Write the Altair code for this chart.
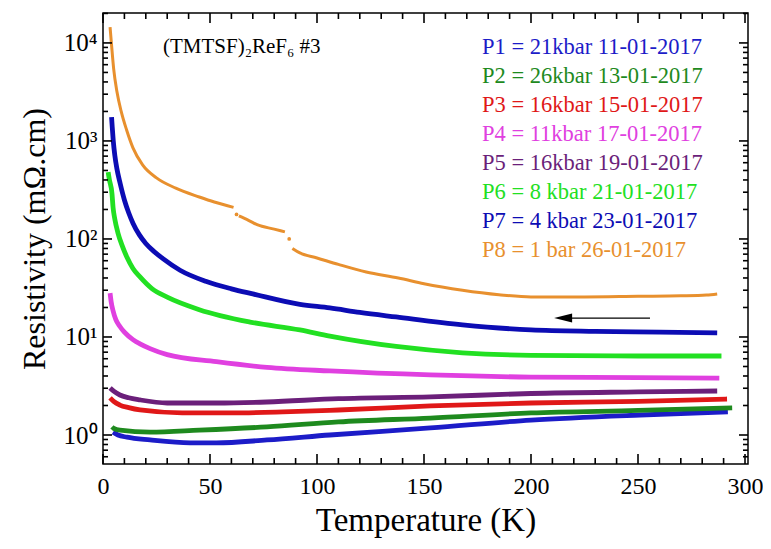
import altair as alt
import pandas as pd

FONT = "Liberation Serif"
W, H = 645, 451

# ---- series (Temperature K, resistivity mOhm.cm) ----
series_names = ["P1", "P2", "P3", "P4", "P5", "P6", "P7", "P8"]
legend_labels = [
    "P1 = 21kbar 11-01-2017",
    "P2 = 26kbar 13-01-2017",
    "P3 = 16kbar 15-01-2017",
    "P4 = 11kbar 17-01-2017",
    "P5 = 16kbar 19-01-2017",
    "P6 = 8 kbar 21-01-2017",
    "P7 = 4 kbar 23-01-2017",
    "P8 = 1 bar 26-01-2017",
]
series_colors = ["#1c1cc8", "#1e8a1e", "#e01818", "#e040e0",
                 "#6b1f7a", "#22e022", "#0c0cb4", "#e8902e"]

p1_T = [4.7, 7, 11.2, 22, 40.7, 53, 76.6, 106, 153, 200, 251, 292]
p1_R = [1.07, 1.0, 0.95, 0.89, 0.83, 0.83, 0.89, 1.0, 1.18, 1.42, 1.6, 1.72]

p2_T = [4.2, 5, 7.9, 22, 45, 76.6, 110, 153, 200, 250, 294]
p2_R = [1.21, 1.17, 1.12, 1.07, 1.12, 1.21, 1.36, 1.49, 1.68, 1.78, 1.89]

p3_T = [3.3, 5, 7.9, 12, 17.3, 37, 60, 84, 110, 153, 200, 250, 291.6]
p3_R = [2.39, 2.2, 2.02, 1.9, 1.8, 1.68, 1.68, 1.72, 1.8, 1.98, 2.12, 2.2, 2.33]

p4_T = [3.3, 3.8, 4.7, 6, 7.9, 10, 14, 17.3, 22, 30, 53, 76.6, 106, 153, 200, 250, 288]
p4_R = [28, 23, 18.5, 15, 12.8, 11.2, 9.4, 8.5, 7.6, 6.6, 5.6, 4.9, 4.5, 4.1, 3.9, 3.85, 3.8]

p5_T = [3.3, 5, 7.9, 12, 17.3, 30, 53, 76.6, 110, 153, 200, 250, 287]
p5_R = [3.02, 2.8, 2.56, 2.4, 2.28, 2.12, 2.12, 2.17, 2.35, 2.45, 2.65, 2.75, 2.81]

p6_T = [2.4, 3.0, 4.2, 4.7, 5.5, 7, 9, 11.2, 14, 17.3, 23, 30, 45, 68.7, 92, 106, 137, 168, 200, 250, 289]
p6_R = [480, 400, 290, 210, 160, 115, 85, 65, 50, 41, 31, 25.5, 19, 14.2, 11.8, 10.2, 8.0, 6.9, 6.5, 6.4, 6.4]

p7_T = [4.0, 4.3, 4.8, 5.5, 6.5, 8, 10, 12, 14, 17, 20, 24, 28, 36, 48, 60, 70, 92, 106, 120, 137, 168, 200, 230, 260, 287]
p7_R = [1750, 1400, 1000, 720, 520, 370, 250, 185, 145, 110, 90, 74, 63, 48, 37, 31, 27.5, 21.5, 19.8, 17.8, 16, 13.3, 11.8, 11.4, 11.2, 11.0]

# P8 is broken in three pieces (two jumps)
p8a_T = [3.3, 4.0, 5.0, 6.5, 8.5, 11, 14, 18.5, 25, 34, 45, 52, 61]
p8a_R = [14500, 9500, 5400, 3200, 2000, 1300, 850, 570, 420, 330, 268, 238, 210]
p8b_T = [63.5, 68, 72, 80, 85]
p8b_R = [172, 155, 140, 126, 118]
p8c_T = [88.5, 92, 100, 110, 123, 138, 150, 168, 185, 200, 225, 250, 270, 282, 287]
p8c_R = [80, 72, 64, 55, 46, 40, 35, 30, 27, 25.6, 25.6, 26, 26.3, 26.8, 27.5]
p8_dots_T = [62.4, 87]
p8_dots_R = [178, 100]

# ---- axis ticks ----
x_major = [0, 50, 100, 150, 200, 250, 300]
x_minor = [t for t in range(10, 300, 10) if t % 50 != 0]
y_major = [1, 10, 100, 1000, 10000]
y_minor = [round(m * d, 3) for d in [0.1, 1, 10, 100, 1000] for m in range(2, 10)
           if 0.506 < m * d < 20200] + [20000]
y_label_expr = ("datum.value == 1 ? '10\u2070' : datum.value == 10 ? '10\u00b9' : "
                "datum.value == 100 ? '10\u00b2' : datum.value == 1000 ? '10\u00b3' : '10\u2074'")

# ---- arrow annotation ----
arrow_T = [255.6, 216]
arrow_R = 15.6
arrow_head_T = 215

# ---- build tables ----
rows = []
for name, T, R in [("P1", p1_T, p1_R), ("P2", p2_T, p2_R), ("P3", p3_T, p3_R),
                   ("P4", p4_T, p4_R), ("P5", p5_T, p5_R), ("P6", p6_T, p6_R),
                   ("P7", p7_T, p7_R)]:
    for t, r in zip(T, R):
        rows.append({"series": name, "seg": name, "T": t, "rho": r})
for seg, T, R in [("P8a", p8a_T, p8a_R), ("P8b", p8b_T, p8b_R), ("P8c", p8c_T, p8c_R)]:
    for t, r in zip(T, R):
        rows.append({"series": "P8", "seg": seg, "T": t, "rho": r})
df = pd.DataFrame(rows)
dots = pd.DataFrame({"series": "P8", "T": p8_dots_T, "rho": p8_dots_R})
arrow_df = pd.DataFrame({"T": [arrow_T[0]], "T2": [arrow_T[1]], "rho": [arrow_R]})
head_df = pd.DataFrame({"T": [arrow_head_T], "rho": [arrow_R]})
leg_df = pd.DataFrame({"series": series_names, "label": legend_labels,
                       "idx": list(range(len(series_names)))})
title_df = pd.DataFrame({"t": ["(TMTSF)\u2082ReF\u2086 #3"]})

xscale = alt.Scale(domain=[0, 301.4], nice=False, zero=False)
yscale = alt.Scale(type="log", domain=[0.506, 20200], nice=False)
cscale = alt.Scale(domain=series_names, range=series_colors)

x_axis = alt.Axis(values=x_major, ticks=False, tickSize=0, domain=False, grid=False,
                  labelFont=FONT, labelFontSize=24, labelColor="black",
                  labelPadding=10, labelFlush=False,
                  title="Temperature (K)", titleFont=FONT, titleFontSize=33,
                  titleFontWeight="normal", titleColor="black", titlePadding=6)
y_axis = alt.Axis(values=y_major, ticks=False, tickSize=0, domain=False, grid=False,
                  labelExpr=y_label_expr,
                  labelFont=FONT, labelFontSize=25, labelColor="black",
                  labelPadding=6, labelFlush=False,
                  title="Resistivity (m\u03a9.cm)", titleFont=FONT, titleFontSize=32,
                  titleFontWeight="normal", titleColor="black", titlePadding=12)

lines = alt.Chart(df).mark_line(interpolate="monotone").encode(
    x=alt.X("T:Q", scale=xscale, axis=x_axis),
    y=alt.Y("rho:Q", scale=yscale, axis=y_axis),
    color=alt.Color("series:N", scale=cscale, legend=None),
    detail="seg:N",
    strokeWidth=alt.condition("datum.series == 'P8'", alt.value(3), alt.value(4.8)),
)

dot_layer = alt.Chart(dots).mark_circle(size=14, opacity=1).encode(
    x=alt.X("T:Q", scale=xscale),
    y=alt.Y("rho:Q", scale=yscale),
    color=alt.Color("series:N", scale=cscale, legend=None),
)

arrow_rule = alt.Chart(arrow_df).mark_rule(color="black", strokeWidth=1.3).encode(
    x=alt.X("T:Q", scale=xscale), x2="T2:Q", y=alt.Y("rho:Q", scale=yscale),
)

arrow_head = alt.Chart(head_df).mark_point(
    shape="M-1,0L1,-0.5L1,0.5Z", size=324, filled=True, color="black", opacity=1
).encode(x=alt.X("T:Q", scale=xscale), y=alt.Y("rho:Q", scale=yscale))


# ---- inward tick marks on all four sides ----
def xticks(values, length, side):
    d = pd.DataFrame({"T": values})
    if side == "bottom":
        ya, yb = H, H - length
    else:
        ya, yb = 0, length
    return alt.Chart(d).mark_rule(color="black", strokeWidth=1.6).encode(
        x=alt.X("T:Q", scale=xscale), y=alt.value(ya), y2=alt.value(yb))


def yticks(values, length, side):
    d = pd.DataFrame({"rho": values})
    if side == "left":
        xa, xb = 0, length
    else:
        xa, xb = W, W - length
    return alt.Chart(d).mark_rule(color="black", strokeWidth=1.6).encode(
        y=alt.Y("rho:Q", scale=yscale), x=alt.value(xa), x2=alt.value(xb))


tick_layers = [
    xticks(x_major, 10, "bottom"), xticks(x_minor, 6, "bottom"),
    xticks(x_major, 10, "top"), xticks(x_minor, 6, "top"),
    yticks(y_major, 9, "left"), yticks(y_minor, 5, "left"),
    yticks(y_major, 9, "right"), yticks(y_minor, 5, "right"),
]

legend_text = alt.Chart(leg_df).mark_text(
    align="left", baseline="middle", font=FONT, fontSize=22.5
).transform_calculate(
    ypix="34 + 29 * datum.idx"
).encode(
    x=alt.value(379),
    y=alt.Y("ypix:Q", scale=None, axis=None),
    text="label:N",
    color=alt.Color("series:N", scale=cscale, legend=None),
)

title_text = alt.Chart(title_df).mark_text(
    align="left", baseline="alphabetic", font=FONT, fontSize=21, color="black"
).encode(x=alt.value(60), y=alt.value(40), text="t:N")

chart = alt.layer(
    lines, dot_layer, arrow_rule, arrow_head, *tick_layers, legend_text, title_text
).properties(
    width=W, height=H,
    padding={"left": 95, "top": 5, "right": 15, "bottom": 75},
    autosize=alt.AutoSizeParams(type="none"),
    background="white",
).configure_view(stroke="black", strokeWidth=1.5)

chart.save("out.html", embed_options={"renderer": "svg", "actions": False})
